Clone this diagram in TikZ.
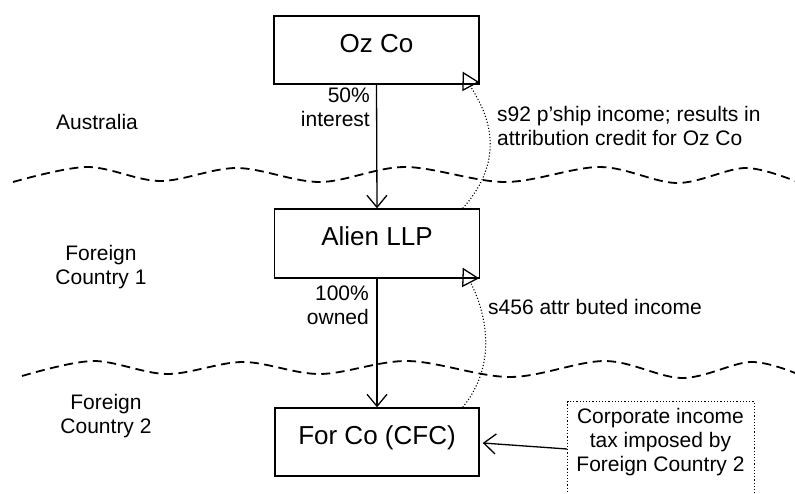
\documentclass[tikz,border=0pt]{standalone}
\usepackage{fontspec}
\setmainfont{Liberation Sans}
\usetikzlibrary{arrows.meta,calc}
\begin{document}
\begin{tikzpicture}[x=1pt,y=-1pt,
  box/.style={draw, line width=1.4pt, minimum width=205pt, minimum height=68pt,
    inner sep=0pt, font=\fontsize{26}{30}\selectfont, text height=20pt, text depth=15pt},
  lbl/.style={font=\fontsize{21}{24}\selectfont, inner sep=0pt},
  wave/.style={line width=1.8pt, dash pattern=on 9pt off 5.5pt},
  own/.style={line width=1.3pt, -{Straight Barb[length=12pt,width=20pt,line width=1.3pt]}},
  attr/.style={line width=1.1pt, dotted, -{Triangle[open,length=17pt,width=19pt,line width=1.3pt]}},
  taxbox/.style={draw, dotted, line width=1.2pt, minimum width=187pt, minimum height=100pt,
    anchor=north west, inner sep=0pt}
]
\useasboundingbox (0,0) rectangle (795,494);

% country borders
\draw[wave] plot[smooth, tension=0.55] coordinates {(13,182) (87,167) (160,181) (237,168) (320,182) (405,167) (505,182) (600,167) (677,183) (745,168) (795,181)};
\draw[wave] plot[smooth, tension=0.55] coordinates {(22,376) (93,361) (167,374) (243,362) (320,374) (408,361) (510,377) (605,361) (682,378) (750,362) (795,373)};

% boxes
\node[box] (oz) at (376.5,50) {Oz Co};
\node[box, minimum height=69pt] (alien) at (377,243.5) {Alien LLP};
\node[box, minimum width=204pt] (forco) at (377,442) {For Co (CFC)};
\node[taxbox] (tax) at (567,401) {};

% region labels
\node[lbl, anchor=base] (aus) at (97,130) {Australia};
\node[lbl, align=center, anchor=north] (fc1) at (101,245) {Foreign\\Country 1};
\node[lbl, align=center, anchor=north] (fc2) at (106,394) {Foreign\\Country 2};

% ownership arrows
\draw[own] (oz.south) -- (alien.north);
\draw[own] (alien.south) -- (forco.north);
\node[lbl, align=right, anchor=north east] (l50) at (370,88) {50\%\\interest};
\node[lbl, align=right, anchor=north east] (l100) at (369,286) {100\%\\owned};

% attribution arrows
\draw[attr] ($(alien.north east)+(-17.5,0)$) .. controls (515,150) and (478,100) .. ($(oz.south east)+(-17,-13)$);
\draw[attr] ($(forco.north east)+(-17,0)$) .. controls (506,354) and (476,293) .. ($(alien.south east)+(-17.5,-11)$);
\node[lbl, align=left, anchor=north west] (s92) at (497,106) {s92 p’ship income; results in\\attribution credit for Oz Co};
\node[lbl, anchor=base west] (s456) at (488,314) {s456 attr buted income};

% tax box
\node[lbl, align=center, anchor=north] (taxtext) at (660.5,408) {Corporate income\\tax imposed by\\Foreign Country 2};
\draw[own] ($(tax.north west)+(0,48)$) -- ($(forco.east)+(3,1)$);
\end{tikzpicture}
\end{document}
